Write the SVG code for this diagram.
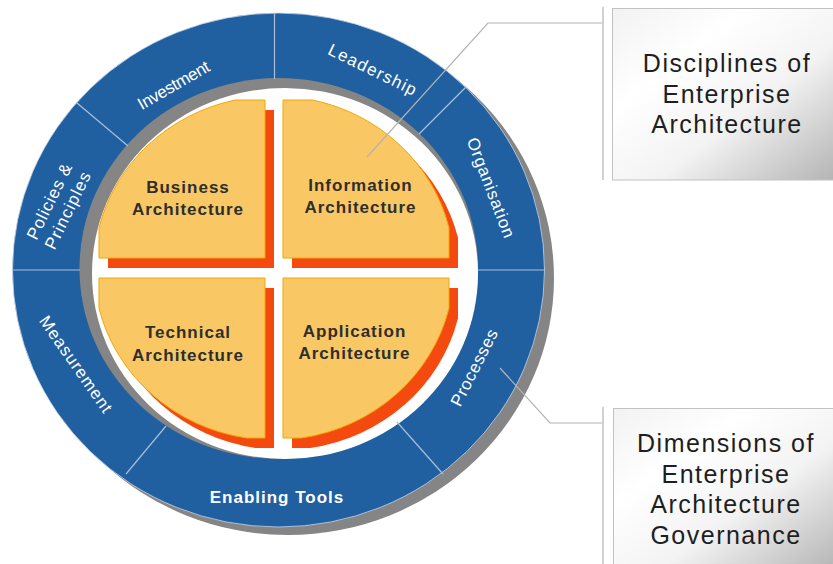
<svg xmlns="http://www.w3.org/2000/svg" width="833" height="564" viewBox="0 0 833 564">
<defs>
<linearGradient id="boxGrad" x1="0" y1="0" x2="1" y2="1">
<stop offset="0" stop-color="#f2f2f2"/>
<stop offset="0.3" stop-color="#ffffff"/>
<stop offset="0.6" stop-color="#f3f3f3"/>
<stop offset="1" stop-color="#b4b4b4"/>
</linearGradient>
<style>
.ring-label{font-family:"Liberation Sans",Arial,sans-serif;font-size:17px;fill:#ffffff;text-anchor:middle}
.ring-bold{font-family:"Liberation Sans",Arial,sans-serif;font-size:17px;font-weight:bold;fill:#ffffff;text-anchor:middle;letter-spacing:1px}
.quad-label{font-family:"Liberation Sans",Arial,sans-serif;font-size:17px;font-weight:bold;fill:#2e2e2e;text-anchor:middle;letter-spacing:1px}
.box-label{font-family:"Liberation Sans",Arial,sans-serif;font-size:25px;fill:#1e1e1e;text-anchor:middle;letter-spacing:1.5px}
.shadow{fill:#F44A10}
.quad{fill:#F9C864;stroke:#F2A800;stroke-width:1}
.divider{stroke:#a9bfda;stroke-width:1.2}
.callout{fill:none;stroke:#b3b3b3;stroke-width:1.2}
.box{fill:url(#boxGrad);stroke:#c2c2c2;stroke-width:1}
</style>
</defs>
<rect width="833" height="564" fill="#ffffff"/>

<g id="ring">
<ellipse cx="288" cy="278" rx="266" ry="257" fill="#858585"/>
<ellipse cx="278.5" cy="270" rx="266" ry="257" fill="#2160A0" stroke="#c8d6e6" stroke-width="0.8"/>
<ellipse cx="278.75" cy="268.5" rx="199.25" ry="190.5" fill="#858585"/>
<ellipse cx="285" cy="273.5" rx="193" ry="185.5" fill="#ffffff"/>
<line class="divider" x1="274.5" y1="13" x2="274.5" y2="79"/>
<line class="divider" x1="466" y1="87" x2="419" y2="134"/>
<line class="divider" x1="478" y1="270" x2="545" y2="270"/>
<line class="divider" x1="443" y1="474" x2="397" y2="422"/>
<line class="divider" x1="126" y1="474" x2="166" y2="426"/>
<line class="divider" x1="12" y1="270" x2="80" y2="270"/>
<line class="divider" x1="77" y1="103" x2="128" y2="146"/>
</g>

<g id="label-investment" transform="translate(173.5,85) rotate(-30)">
<text class="ring-label" x="0" y="6" textLength="80" lengthAdjust="spacing">Investment</text>
</g>
<g id="label-leadership" transform="translate(372.5,69.5) rotate(26)">
<text class="ring-label" x="0" y="6" textLength="96" lengthAdjust="spacing">Leadership</text>
</g>
<g id="label-organisation" transform="translate(491,187.5) rotate(69)">
<text class="ring-label" x="0" y="6" textLength="106" lengthAdjust="spacing">Organisation</text>
</g>
<g id="label-processes" transform="translate(474,367.5) rotate(-63)">
<text class="ring-label" x="0" y="6" textLength="84" lengthAdjust="spacing">Processes</text>
</g>
<g id="label-enabling-tools">
<text class="ring-bold" x="277" y="503">Enabling Tools</text>
</g>
<g id="label-measurement" transform="translate(76,364) rotate(55)">
<text class="ring-label" x="0" y="6" textLength="114" lengthAdjust="spacing">Measurement</text>
</g>
<g id="label-policies" transform="translate(58.5,206) rotate(-64)">
<text class="ring-label" x="0" y="-4.5" textLength="82" lengthAdjust="spacing">Policies &amp;</text>
<text class="ring-label" x="0" y="16" textLength="84" lengthAdjust="spacing">Principles</text>
</g>

<g id="business-architecture">
<path class="shadow" transform="translate(9,10)" d="M265,258 L265,100 L235.4,100 A180,172 0 0 0 99,227.7 L99,258 Z"/>
<path class="quad" d="M265,258 L265,100 L235.4,100 A180,172 0 0 0 99,227.7 L99,258 Z"/>
<text class="quad-label" x="188" y="193">Business</text>
<text class="quad-label" x="188" y="215">Architecture</text>
</g>
<g id="information-architecture">
<path class="shadow" transform="translate(9,10)" d="M283,258 L283,100 L312.6,100 A180,172 0 0 1 449,227.7 L449,258 Z"/>
<path class="quad" d="M283,258 L283,100 L312.6,100 A180,172 0 0 1 449,227.7 L449,258 Z"/>
<text class="quad-label" x="360.5" y="191">Information</text>
<text class="quad-label" x="360.5" y="213">Architecture</text>
</g>
<g id="technical-architecture">
<path class="shadow" transform="translate(9,10)" d="M265,278 L99,278 L99,308.3 A180,172 0 0 0 246.6,438 L265,438 Z"/>
<path class="quad" d="M265,278 L99,278 L99,308.3 A180,172 0 0 0 246.6,438 L265,438 Z"/>
<text class="quad-label" x="188" y="338">Technical</text>
<text class="quad-label" x="188" y="361">Architecture</text>
</g>
<g id="application-architecture">
<path class="shadow" transform="translate(9,10)" d="M283,278 L449,278 L449,308.3 A180,172 0 0 1 301.4,438 L283,438 Z"/>
<path class="quad" d="M283,278 L449,278 L449,308.3 A180,172 0 0 1 301.4,438 L283,438 Z"/>
<text class="quad-label" x="354.5" y="337">Application</text>
<text class="quad-label" x="354.5" y="359">Architecture</text>
</g>

<g id="box-disciplines">
<rect class="box" x="612.5" y="8.5" width="222" height="171.5"/>
<text class="box-label" x="727" y="72">Disciplines of</text>
<text class="box-label" x="727" y="102.5">Enterprise</text>
<text class="box-label" x="727" y="133">Architecture</text>
</g>
<g id="box-dimensions">
<rect class="box" x="613.5" y="408.5" width="222" height="162"/>
<text class="box-label" x="726" y="452">Dimensions of</text>
<text class="box-label" x="726" y="482.5">Enterprise</text>
<text class="box-label" x="726" y="513">Architecture</text>
<text class="box-label" x="726" y="543.5">Governance</text>
</g>

<g id="connectors">
<polyline class="callout" points="367,157 488,23 602,23"/>
<line class="callout" x1="603" y1="7" x2="603" y2="180"/>
<polyline class="callout" points="500,368 550,423 602,423"/>
<line class="callout" x1="603" y1="407" x2="603" y2="564"/>
</g>
</svg>
